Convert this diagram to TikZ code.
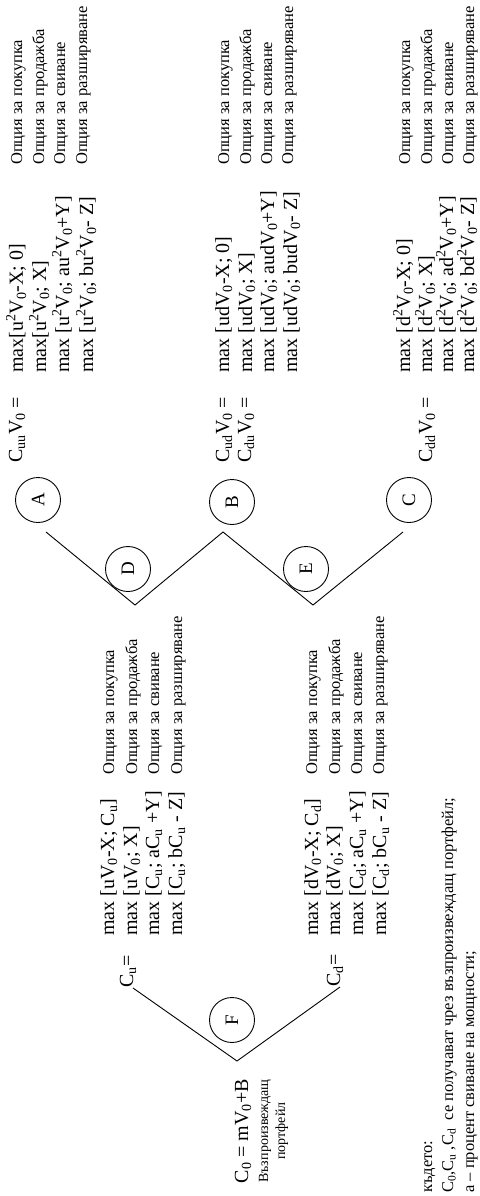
\documentclass[tikz,border=0pt]{standalone}
\usepackage{fontspec}
\setmainfont{Liberation Serif}
\newcommand{\sub}[1]{\textsubscript{#1}}
\newcommand{\sps}[1]{\textsuperscript{#1}}
\begin{document}
\begin{tikzpicture}[x=1pt,y=-1pt,
  big/.style={rotate=90, anchor=base west, inner sep=0pt, font=\fontsize{20}{22}\selectfont},
  opt/.style={rotate=90, anchor=base west, inner sep=0pt, font=\fontsize{16.5}{18}\selectfont},
  small/.style={rotate=90, anchor=base, inner sep=0pt, font=\fontsize{14}{16}\selectfont},
  state/.style={circle, draw, line width=0.9pt, minimum size=45pt, inner sep=0pt, rotate=90, font=\fontsize{19}{21}\selectfont},
  edge/.style={line width=0.9pt}]
\useasboundingbox (0,0) rectangle (479,1196);

% circles
\node[state] (A) at (38,500) {A};
\node[state] (B) at (232,502) {B};
\node[state] (C) at (409,500) {C};
\node[state] (D) at (128,569) {D};
\node[state] (E) at (306,569) {E};
\node[state] (F) at (232,1020) {F};

% group A (uu)
\node[big] (cuu) at (22,463) {C\sub{uu}V\sub{0} =};
\node[big] (ma1) at (23,373) {max[u\sps{2}V\sub{0}-X; 0]};
\node[big] (ma2) at (46,373) {max[u\sps{2}V\sub{0}; X]};
\node[big] (ma3) at (69,373) {max [u\sps{2}V\sub{0}; au\sps{2}V\sub{0}+Y]};
\node[big] (ma4) at (93,373) {max [u\sps{2}V\sub{0}; bu\sps{2}V\sub{0}- Z]};
\node[opt] (oa1) at (22,165) {Опция за покупка};
\node[opt] (oa2) at (44,165) {Опция за продажба};
\node[opt] (oa3) at (65,165) {Опция за свиване};
\node[opt] (oa4) at (87,165) {Опция за разширяване};

% group B (ud)
\node[big] (cud) at (229,463) {C\sub{ud}V\sub{0} =};
\node[big] (cdu) at (251,463) {C\sub{du}V\sub{0} =};
\node[big] (mb1) at (229,373) {max [udV\sub{0}-X; 0]};
\node[big] (mb2) at (252,373) {max [udV\sub{0}; X]};
\node[big] (mb3) at (274,373) {max [udV\sub{0}; audV\sub{0}+Y]};
\node[big] (mb4) at (297,373) {max [udV\sub{0}; budV\sub{0}- Z]};
\node[opt] (ob1) at (229,165) {Опция за покупка};
\node[opt] (ob2) at (251,165) {Опция за продажба};
\node[opt] (ob3) at (272,165) {Опция за свиване};
\node[opt] (ob4) at (293,165) {Опция за разширяване};

% group C (dd)
\node[big] (cdd) at (432,463) {C\sub{dd}V\sub{0} =};
\node[big] (mc1) at (410,373) {max [d\sps{2}V\sub{0}-X; 0]};
\node[big] (mc2) at (432,373) {max [d\sps{2}V\sub{0}; X]};
\node[big] (mc3) at (453,373) {max [d\sps{2}V\sub{0}; ad\sps{2}V\sub{0}+Y]};
\node[big] (mc4) at (474,373) {max [d\sps{2}V\sub{0}; bd\sps{2}V\sub{0}- Z]};
\node[opt] (oc1) at (410,165) {Опция за покупка};
\node[opt] (oc2) at (432,165) {Опция за продажба};
\node[opt] (oc3) at (453,165) {Опция за свиване};
\node[opt] (oc4) at (474,165) {Опция за разширяване};

% group Cu
\node[big] (cu) at (133,988) {C\sub{u}=};
\node[big] (mu1) at (114,936) {max [uV\sub{0}-X; C\sub{u}]};
\node[big] (mu2) at (137,936) {max [uV\sub{0}; X]};
\node[big] (mu3) at (159,936) {max [C\sub{u}; aC\sub{u} +Y]};
\node[big] (mu4) at (182,936) {max [C\sub{u}; bC\sub{u} - Z]};
\node[opt] (ou1) at (114,775) {Опция за покупка};
\node[opt] (ou2) at (137,775) {Опция за продажба};
\node[opt] (ou3) at (159,775) {Опция за свиване};
\node[opt] (ou4) at (182,775) {Опция за разширяване};

% group Cd
\node[big] (cd) at (340,987) {C\sub{d}=};
\node[big] (md1) at (318,936) {max [dV\sub{0}-X; C\sub{d}]};
\node[big] (md2) at (340,936) {max [dV\sub{0}; X]};
\node[big] (md3) at (363,936) {max [C\sub{d}; aC\sub{u} +Y]};
\node[big] (md4) at (386,936) {max [C\sub{d}; bC\sub{u} - Z]};
\node[opt] (od1) at (317,775) {Опция за покупка};
\node[opt] (od2) at (340,775) {Опция за продажба};
\node[opt] (od3) at (362,775) {Опция за свиване};
\node[opt] (od4) at (384,775) {Опция за разширяване};

% root
\node[big, anchor=base] (root) at (248,1131) {C\sub{0} = mV\sub{0}+B};
\node[small] (rep) at (268,1131) {Възпроизвеждащ};
\node[small] (port) at (285,1131) {портфейл};

% notes
\node[opt] (n1) at (432,1193) {където:};
\node[opt] (n2) at (453,1193) {C\sub{0},C\sub{u} ,C\sub{d}\ \ се получават чрез възпроизвеждащ портфейл;};
\node[opt] (n3) at (474,1193) {а – процент свиване на мощности;};

% tree connectors
\coordinate (a1) at (46,532);
\coordinate (v1) at (135,605);
\coordinate (b1) at (223,532);
\coordinate (v2) at (313,605);
\coordinate (c1) at (403,532);
\coordinate (v0) at (237,1061);
\draw[edge] (a1) -- (v1) -- (b1) -- (v2) -- (c1);
\draw[edge] (cu.base west) -- (v0) -- (cd.base west);
\end{tikzpicture}
\end{document}
